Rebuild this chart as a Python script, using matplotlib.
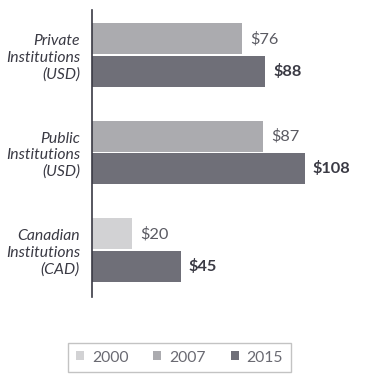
import matplotlib
matplotlib.use("Agg")
import matplotlib.pyplot as plt
from matplotlib.patches import Patch
import numpy as np

categories = ["Private\nInstitutions\n(USD)", "Public\nInstitutions\n(USD)", "Canadian\nInstitutions\n(CAD)"]
years = ["2000", "2007", "2015"]
v2000 = [None, None, 20]
v2007 = [76, 87, None]
v2015 = [88, 108, 45]
colors = {"2000": "#d2d2d4", "2007": "#ababaf", "2015": "#6f6f78"}

plt.rcParams['font.family'] = ['Lato', 'DejaVu Sans']

W, H = 369, 382
fig = plt.figure(figsize=(W / 100, H / 100), dpi=100)
ax_left, ax_right, ax_top, ax_bot = 92.5, 360, 10, 297
ax = fig.add_axes([ax_left / W, 1 - ax_bot / H, (ax_right - ax_left) / W, (ax_bot - ax_top) / H])

px_per_unit = 1.965
ax.set_xlim(0, (ax_right - ax_left) / px_per_unit)
grp_px = 97.5
ax.set_ylim(2 + (ax_bot - 250) / grp_px, -(55 - ax_top) / grp_px)

bh = 0.318
off = 0.165
series = {"2000": v2000, "2007": v2007, "2015": v2015}
for i, cat in enumerate(categories):
    present = [(y, series[y][i]) for y in years if series[y][i] is not None]
    for j, (yr, val) in enumerate(present):
        yc = i - off if j == 0 else i + off
        ax.barh(yc, val, height=bh, color=colors[yr], edgecolor="none")
        bold = yr == "2015"
        ax.annotate(f"${val}", (val, yc), xytext=(8, 0), textcoords="offset pixels",
                    va="center", ha="left", fontsize=11.8,
                    fontweight="bold" if bold else "normal",
                    color="#3a3a44" if bold else "#5a5a62")

ax.set_yticks(range(len(categories)))
ax.set_yticklabels(categories, fontstyle="italic", fontsize=11.3, color="#3a3a44", linespacing=1.22)
ax.tick_params(axis="y", length=0, pad=9)
ax.set_xticks([])
for s in ["top", "right", "bottom"]:
    ax.spines[s].set_visible(False)
ax.spines["left"].set_color("#3a3a44")
ax.spines["left"].set_linewidth(1.2)

handles = [Patch(facecolor=colors[y], edgecolor="none", label=y) for y in years]
leg = fig.legend(handles=handles, loc="center", bbox_to_anchor=(179.5 / W, 1 - 357.5 / H), ncol=3,
                 frameon=True, fancybox=False, edgecolor="#b4b4b4", handlelength=0.5, handleheight=0.5,
                 handletextpad=0.5, columnspacing=1.6, fontsize=11.3, borderpad=0.5, labelcolor="#6a6a72")
leg.get_frame().set_linewidth(1.0)

fig.savefig("out.png", dpi=100)
